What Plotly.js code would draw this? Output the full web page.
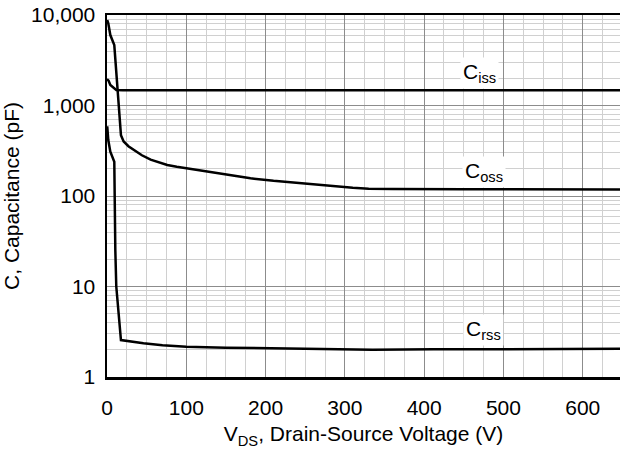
<!DOCTYPE html>
<html>
<head>
<meta charset="utf-8">
<script src="https://cdn.plot.ly/plotly-3.0.1.min.js"></script>
<style>html,body{margin:0;padding:0;background:#fff;}#chart{width:620px;height:451px;}</style>
</head>
<body>
<div id="chart"></div>
<script>
// Data
const vCiss = [0, 2, 4.2, 8, 11.7, 20, 100, 300, 650];
const ciss  = [1950, 1880, 1690, 1560, 1483, 1478, 1478, 1478, 1478];

const vCoss = [0.3, 1.6, 4.2, 9.2, 17.6, 21, 27, 34, 44, 55, 65, 76, 88, 101, 120, 139, 160, 181, 210, 244, 280, 310, 330, 360, 450, 650];
const coss  = [8800, 8100, 6000, 4650, 470, 400, 355, 322, 282, 252, 235, 220, 210, 202, 189, 178, 167, 157, 147, 138, 129, 123, 120.5, 119.5, 119, 118];

const vCrss = [0.3, 1.6, 4.2, 9.2, 10.5, 11.7, 17.6, 30, 46, 70, 100, 150, 200, 245, 335, 412, 650];
const crss  = [590, 416, 309, 239, 25, 10, 2.56, 2.45, 2.36, 2.25, 2.16, 2.11, 2.07, 2.04, 2.0, 2.02, 2.05];

const labels = [
  {text: 'C<sub>iss</sub>', v: 470, c: 2290},
  {text: 'C<sub>oss</sub>', v: 475, c: 184},
  {text: 'C<sub>rss</sub>', v: 475, c: 3.3}
];

const font = 'Liberation Sans, Arial, Helvetica, sans-serif';
const fs = 21;
const lineStyle = {color: '#000', width: 2.5};

const traces = [
  {x: vCiss, y: ciss, mode: 'lines', line: lineStyle, name: 'Ciss', hoverinfo: 'skip'},
  {x: vCoss, y: coss, mode: 'lines', line: lineStyle, name: 'Coss', hoverinfo: 'skip'},
  {x: vCrss, y: crss, mode: 'lines', line: lineStyle, name: 'Crss', hoverinfo: 'skip'}
];

const layout = {
  width: 620, height: 451,
  margin: {l: 107, r: 0, t: 15, b: 74},
  paper_bgcolor: '#fff', plot_bgcolor: '#fff',
  showlegend: false,
  font: {family: font, size: fs, color: '#000'},
  xaxis: {
    range: [0, 647],
    dtick: 100, tick0: 0,
    showgrid: true, gridcolor: '#8c8c8c', gridwidth: 1,
    minor: {dtick: 25, tick0: 0, showgrid: true, gridcolor: '#d0d0d0', gridwidth: 1},
    zeroline: false,
    showline: true, linecolor: '#000', linewidth: 2.5, mirror: true,
    ticks: '', ticklabelstandoff: 10,
    tickfont: {family: font, size: fs, color: '#000'},
    title: {text: 'V<sub>DS</sub>, Drain-Source Voltage (V)', font: {family: font, size: fs, color: '#000'}, standoff: 9}
  },
  yaxis: {
    type: 'log',
    range: [0, 4],
    dtick: 1,
    tickformat: ',d',
    showgrid: true, gridcolor: '#8c8c8c', gridwidth: 1,
    minor: {dtick: 'D1', showgrid: true, gridcolor: '#d0d0d0', gridwidth: 1},
    zeroline: false,
    showline: true, linecolor: '#000', linewidth: 2.5, mirror: true,
    ticks: '', ticklabelstandoff: 5,
    tickfont: {family: font, size: fs, color: '#000'},
    title: {text: 'C, Capacitance (pF)', font: {family: font, size: fs, color: '#000'}, standoff: 10}
  },
  annotations: labels.map(l => ({
    x: l.v, y: Math.log10(l.c), xref: 'x', yref: 'y',
    text: l.text, showarrow: false,
    bgcolor: '#fff', borderpad: 2,
    font: {family: font, size: fs, color: '#000'}
  }))
};

Plotly.newPlot('chart', traces, layout, {staticPlot: true, displayModeBar: false});
</script>
</body>
</html>
